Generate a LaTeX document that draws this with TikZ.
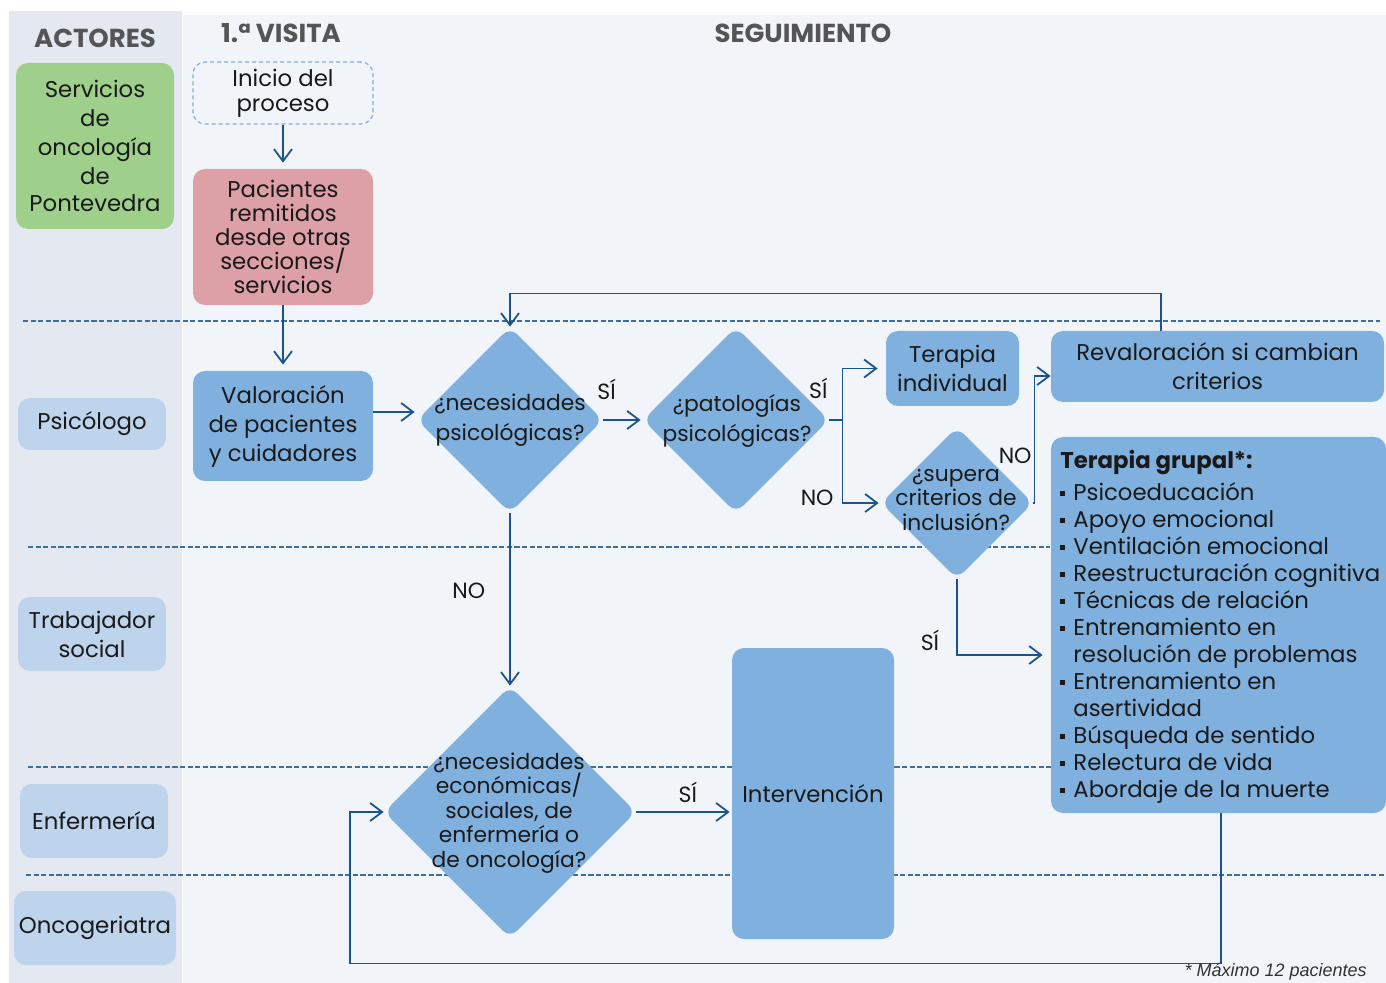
\documentclass[tikz,border=0pt]{standalone}
\usepackage{fontspec}
\setmainfont{Poppins}
\newfontfamily\notefont{Liberation Sans}
\usetikzlibrary{arrows.meta}
\usetikzlibrary{shapes.geometric}

\definecolor{leftbg}{HTML}{E4E9F1}
\definecolor{mainbg}{HTML}{F1F5F9}
\definecolor{greenbox}{HTML}{9ED08B}
\definecolor{pinkbox}{HTML}{DDA0A6}
\definecolor{bluebox}{HTML}{80B0DE}
\definecolor{actorbox}{HTML}{BDD4EC}
\definecolor{flowline}{HTML}{1B5390}
\definecolor{laneline}{HTML}{3F6F99}
\definecolor{headgray}{HTML}{555555}
\definecolor{startline}{HTML}{7FAEE0}

\newcommand{\bul}{\makebox[6.5pt][l]{\rule[2.5pt]{2.5pt}{2.5pt}}}
\newcommand{\cont}{\hspace*{6.5pt}}
\newcommand{\tight}[2]{\fontsize{#1}{#2}\selectfont\lineskiplimit=-6pt}

\begin{document}
\begin{tikzpicture}[x=0.5pt,y=-0.5pt,
    every node/.style={font=\tight{11.4}{14.5}, text=black!90},
    head/.style={font=\fontsize{13}{14}\selectfont\bfseries, text=headgray},
    actor/.style={
% The shape:
rectangle, rounded corners=6pt,
% The size:
minimum width=74pt, minimum height=37pt,
% The fill:
fill=actorbox, align=center, inner sep=1pt,
},
    stepbox/.style={
% The shape:
rectangle, rounded corners=6pt,
% The size:
minimum width=90pt,
% The fill:
fill=bluebox, align=center, inner sep=1pt,
},
    decision/.style={
diamond, aspect=1, rounded corners=5pt,
inner sep=0pt, minimum size=#1,
fill=bluebox,
},
    dtext/.style={align=center, inner sep=0pt, font=\tight{10.9}{12.2}},
    lane/.style={laneline, line width=0.75pt, dash pattern=on 2.6pt off 1.2pt},
    arr/.style={flowline, line width=0.9pt, -{Straight Barb[length=6pt,width=9pt]}},
    lbl/.style={font=\fontsize{11}{12}\selectfont, inner sep=0pt},
]
  \useasboundingbox (0,0) rectangle (1386,983);
  \clip (0,0) rectangle (1386,983);
  \fill[white] (0,0) rectangle (1386,983);
  \fill[leftbg] (9,11) rectangle (182,983);
  \fill[mainbg] (183,15) rectangle (1386,983);
  % lanes
  \draw[lane] (23,321) -- (1380,321);
  \draw[lane] (28,547) -- (1050,547);
  \draw[lane] (28,767) -- (1386,767);
  \draw[lane] (26,875) -- (1386,875);

  % headers
  \node[head] (hact) at (95,38) {ACTORES};
  \node[head] (hvis) at (281,33) {1.ª VISITA};
  \node[head] (hseg) at (803,33) {SEGUIMIENTO};

  % actors
  \node[actor, fill=greenbox, minimum width=79pt, minimum height=83pt] (serv) at (95,146) {Servicios\\de\\oncología\\de\\[-1pt]Pontevedra};
  \node[actor, minimum height=26pt] (psi) at (92,424) {Psicólogo};
  \node[actor] (trab) at (92,634) {Trabajador\\social};
  \node[actor] (enf) at (94,821) {Enfermería};
  \node[actor, minimum width=81pt] (onco) at (95,928) {Oncogeriatra};

  % steps
  \node[stepbox, fill=none, draw=startline, line width=0.6pt, dash pattern=on 2pt off 1.5pt,
        minimum height=31pt, font=\tight{11.4}{12.5}] (ini) at (283,93) {Inicio del\\proceso};
  \node[stepbox, fill=pinkbox, minimum height=68pt, font=\tight{11.4}{12}] (pac) at (283,237) {Pacientes\\remitidos\\desde otras\\secciones/\\servicios};
  \node[stepbox, minimum height=55pt] (val) at (283,426) {Valoración\\de pacientes\\y cuidadores};
  \node[stepbox, minimum width=66.5pt, minimum height=37.5pt] (ind) at (952.5,368.5) {Terapia\\individual};
  \node[stepbox, minimum width=166.5pt, minimum height=35.5pt] (rev) at (1217.5,366.5) {Revaloración si cambian\\criterios};
  \node[stepbox, minimum width=167.5pt, minimum height=188pt] (gru) at (1218.5,625) {};
  \node[anchor=north west, align=left, inner sep=0pt, font=\tight{11.4}{13.5}] (grut) at (1060,450)
    {\textbf{Terapia grupal*:}\\[2.5pt]
     \bul Psicoeducación\\
     \bul Apoyo emocional\\
     \bul Ventilación emocional\\
     \bul Reestructuración cognitiva\\
     \bul Técnicas de relación\\
     \bul Entrenamiento en\\
     \cont resolución de problemas\\
     \bul Entrenamiento en\\
     \cont asertividad\\
     \bul Búsqueda de sentido\\
     \bul Relectura de vida\\
     \bul Abordaje de la muerte};
  \node[stepbox, minimum width=81pt, minimum height=145.5pt] (int) at (813,793.5) {Intervención};

  % decisions
  \node[decision=93pt] (d1) at (510,420) {};
  \node[dtext, font=\tight{10.9}{15}] (d1t) at (510,420) {¿necesidades\\psicológicas?};
  \node[decision=93pt] (d2) at (736,420) {};
  \node[dtext, font=\tight{10.9}{15}] (d2t) at (737,420.5) {¿patologías\\psicológicas?};
  \node[decision=76pt] (d3) at (957,503) {};
  \node[dtext] (d3t) at (956,500) {¿supera\\criterios de\\inclusión?};
  \node[decision=126pt] (d4) at (510,812) {};
  \node[dtext] (d4t) at (509,813) {¿necesidades\\económicas/\\sociales, de\\enfermería o\\de oncología?};

  % connectors
  \coordinate (vo) at ([yshift=7pt]val.east);
  \coordinate (j2) at ([xshift=6.5pt]d2.east);
  \draw[arr, shorten >=3pt] (ini) -- (pac);
  \draw[arr, shorten >=3pt] (pac) -- (val);
  \draw[arr, shorten >=1pt] (vo) -- (vo -| d1.west);
  \draw[arr, shorten >=1pt] (d1) -- node[lbl, pos=0.08, above=9.5pt] {SÍ} (d2);
  \draw[arr, shorten >=4pt] (d2.east) -- (j2) |- node[lbl, pos=0.31, left=7pt] {SÍ} (ind);
  \draw[arr, shorten >=1pt] (j2) |- node[lbl, pos=0.47, left=4pt] {NO} (d3.west);
  \draw[arr] (d3.east) -- ++(1,0) |- node[lbl, pos=0.185, left=1pt] {NO} ([yshift=-4.75pt]rev.west);
  \draw[arr, shorten >=4pt] (d3.south) |- node[lbl, pos=0.4, left=8.5pt] {SÍ} ([yshift=-15pt]gru.west);
  \draw[arr] ([xshift=-28.25pt]rev.north) -- ++(0,-37) -| (d1);
  \draw[arr] (d1) -- node[lbl, pos=0.45, left=12pt] {NO} (d4);
  \draw[arr, shorten >=1pt] (d4.east) -- node[lbl, pos=0.54, above=4pt] {SÍ} (d4.east -| int.west);
  \draw[arr] ([xshift=1.25pt]gru.south) |- ++(-871,150) |- (d4.west);

  % note
  \node[font=\notefont\itshape\fontsize{9}{10}\selectfont, text=black!80, anchor=base east, inner sep=0pt] (note) at (1367,976) {* Máximo 12 pacientes};
\end{tikzpicture}
\end{document}
